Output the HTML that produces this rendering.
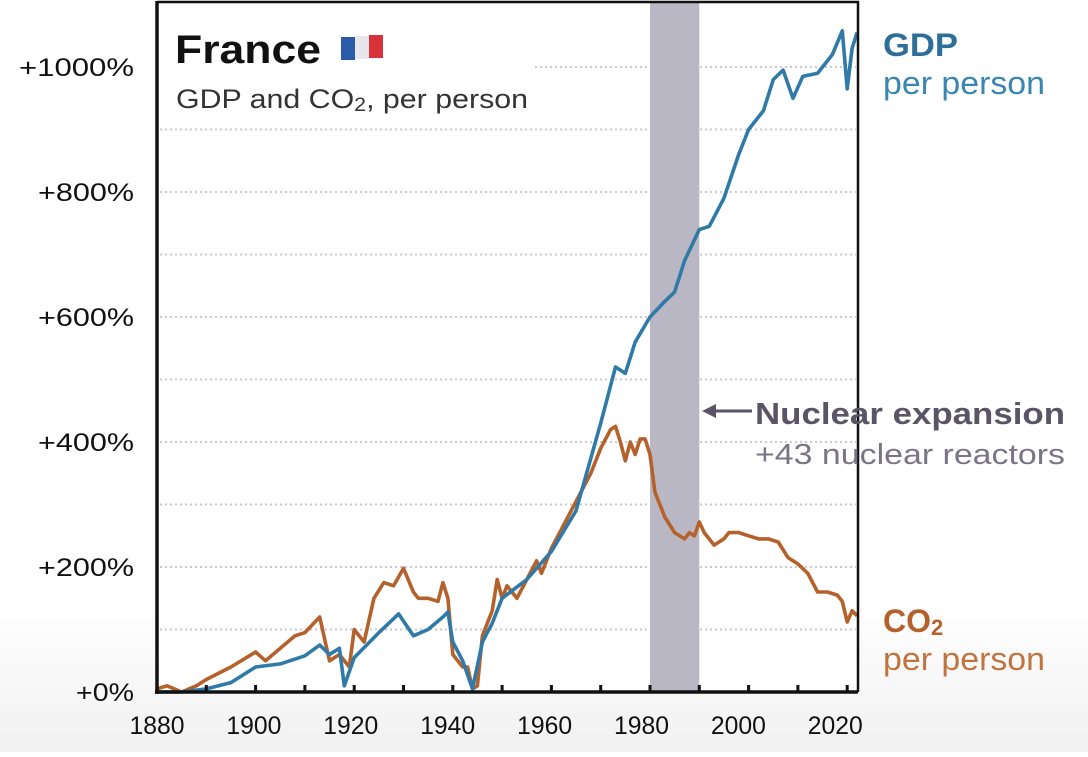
<!DOCTYPE html>
<html><head><meta charset="utf-8"><style>
html,body{margin:0;padding:0;}
body{width:1088px;height:752px;overflow:hidden;background:linear-gradient(#fff 0%,#fff 80%,#f1f1f1 100%);font-family:"Liberation Sans","DejaVu Sans",sans-serif;}
</style></head><body>
<svg id="chart" width="1088" height="752" xmlns="http://www.w3.org/2000/svg" font-family="Liberation Sans, DejaVu Sans, sans-serif">
<rect x="157" y="2" width="701" height="690" fill="#fff"/>
<g id="grid"></g>
<rect id="band" fill="#bab7c4"/>
<g id="series"></g>
<g id="axes"></g>
<g>
<text x="175" y="63" font-size="40" font-weight="bold" fill="#111" textLength="146" lengthAdjust="spacingAndGlyphs">France</text>
<g><rect x="341" y="37" width="14" height="23" fill="#2a5aa8"/><rect x="355" y="36" width="14" height="23" fill="#e6e6ec"/><rect x="369" y="35" width="14" height="23" fill="#d8323a"/></g>
<text x="176" y="108" font-size="27" fill="#333" textLength="352" lengthAdjust="spacingAndGlyphs">GDP and CO<tspan font-size="19" dy="3">2</tspan><tspan dy="-3">, per person</tspan></text>
</g>
<g>
<text x="883" y="56" font-size="32" font-weight="bold" fill="#2e6f99" textLength="75" lengthAdjust="spacingAndGlyphs">GDP</text>
<text x="883" y="94" font-size="32" fill="#3a86b2" textLength="162" lengthAdjust="spacingAndGlyphs">per person</text>
</g>
<g>
<text x="883" y="632" font-size="32" font-weight="bold" fill="#b5612b">CO<tspan font-size="22" dy="3">2</tspan></text>
<text x="883" y="670" font-size="32" fill="#c2743f" textLength="162" lengthAdjust="spacingAndGlyphs">per person</text>
</g>
<g>
<line x1="712" y1="411" x2="752" y2="411" stroke="#5a5566" stroke-width="3"/>
<path d="M702 411 L716 404 L716 418 Z" fill="#5a5566"/>
<text x="755" y="424" font-size="31" font-weight="bold" fill="#5a5566" textLength="310" lengthAdjust="spacingAndGlyphs">Nuclear expansion</text>
<text x="755" y="464" font-size="29" fill="#7a7585" textLength="310" lengthAdjust="spacingAndGlyphs">+43 nuclear reactors</text>
</g>
</svg>
<script>
const gdpYears=[1880,1885,1890,1895,1900,1905,1910,1913,1915,1917,1918,1920,1925,1929,1932,1935,1938,1939,1940,1942,1944,1946,1948,1950,1955,1960,1965,1970,1973,1975,1977,1980,1983,1985,1987,1990,1992,1995,1998,2000,2003,2005,2007,2009,2011,2014,2017,2019,2020,2021,2022];
const gdpValues=[0,0,5,15,40,45,58,75,60,70,10,55,95,125,90,100,120,128,80,50,5,80,110,150,180,225,290,430,520,510,560,600,625,640,690,740,745,790,860,900,930,980,995,950,985,990,1020,1058,965,1030,1055];
const co2Years=[1880,1882,1885,1888,1890,1895,1900,1902,1905,1908,1910,1913,1915,1917,1919,1920,1922,1924,1926,1928,1930,1932,1933,1935,1937,1938,1939,1940,1942,1943,1944,1945,1946,1948,1949,1950,1951,1953,1955,1957,1958,1960,1962,1964,1966,1968,1970,1972,1973,1974,1975,1976,1977,1978,1979,1980,1981,1983,1985,1987,1988,1989,1990,1991,1993,1995,1996,1998,2000,2002,2004,2006,2008,2010,2012,2014,2016,2018,2019,2020,2021,2022];
const co2Values=[5,10,0,10,20,40,64,50,70,90,95,120,50,60,40,100,80,150,175,170,198,160,150,150,145,175,150,60,40,40,5,10,90,130,180,150,170,150,180,210,190,230,260,290,320,350,390,420,425,400,370,400,380,405,405,380,320,280,255,245,255,250,272,255,235,245,255,255,250,245,245,240,215,205,190,160,160,155,145,112,130,122];
const yTicks=[0,200,400,600,800,1000];
const yTickLabels=["+0%","+200%","+400%","+600%","+800%","+1000%"];
const xTicks=[1880,1900,1920,1940,1960,1980,2000,2020];
const band=[1980,1990];

const X=y=>157+(y-1880)*4.93;
const Y=v=>692-v*0.625;
const NS="http://www.w3.org/2000/svg";
function mk(tag,attrs,parent){const e=document.createElementNS(NS,tag);for(const k in attrs)e.setAttribute(k,attrs[k]);parent.appendChild(e);return e;}
const grid=document.getElementById('grid'),axes=document.getElementById('axes'),ser=document.getElementById('series');
for(let v=100;v<=1000;v+=100){
  const x1=v>=1000?535:160;
  const l=mk('line',{x1:x1,x2:856,y1:Y(v),y2:Y(v),stroke:'#c9c9cf','stroke-width':2,'stroke-dasharray':'2 3'},grid);
  
  
}
const b=document.getElementById('band');
b.setAttribute('x',X(band[0]));b.setAttribute('width',X(band[1])-X(band[0]));b.setAttribute('y',3);b.setAttribute('height',689);
function line(xs,vs,color,name){
  const d=xs.map((y,i)=>(i?'L':'M')+X(y).toFixed(1)+' '+Y(vs[i]).toFixed(1)).join(' ');
  const p=mk('path',{d:d,fill:'none',stroke:color,'stroke-width':3.6,'stroke-linejoin':'round'},ser);
  
  
}
line(co2Years,co2Values,'#b5612b','co2-line');
line(gdpYears,gdpValues,'#2f7aa6','gdp-line');
const f=mk('path',{d:'M157 2 L858 2 L858 692',fill:'none',stroke:'#111','stroke-width':2.5},axes);


const ya=mk('line',{x1:157,x2:157,y1:1,y2:694,stroke:'#111','stroke-width':3.5},axes);


const xa=mk('line',{x1:155,x2:858,y1:692,y2:692,stroke:'#111','stroke-width':3.5},axes);


for(let yr=1890;yr<=2020;yr+=10){
  const t=mk('line',{x1:X(yr),x2:X(yr),y1:685,y2:692,stroke:'#111','stroke-width':3},axes);
  
  
}
yTicks.forEach((v,i)=>{
  const s=yTickLabels[i];
  const t=mk('text',{x:134,y:Y(v)+9,'font-size':25,'text-anchor':'end',fill:'#111',textLength:(s.length*19.2).toFixed(0),lengthAdjust:'spacingAndGlyphs'},axes);
  t.textContent=s;
  
  
});
xTicks.forEach(yr=>{
  const t=mk('text',{x:X(yr)-(yr-1880)*0.085,y:734,'font-size':25,'text-anchor':'middle',fill:'#111',textLength:55,lengthAdjust:'spacingAndGlyphs'},axes);
  t.textContent=yr;
  
  
});
</script>
</body></html>
